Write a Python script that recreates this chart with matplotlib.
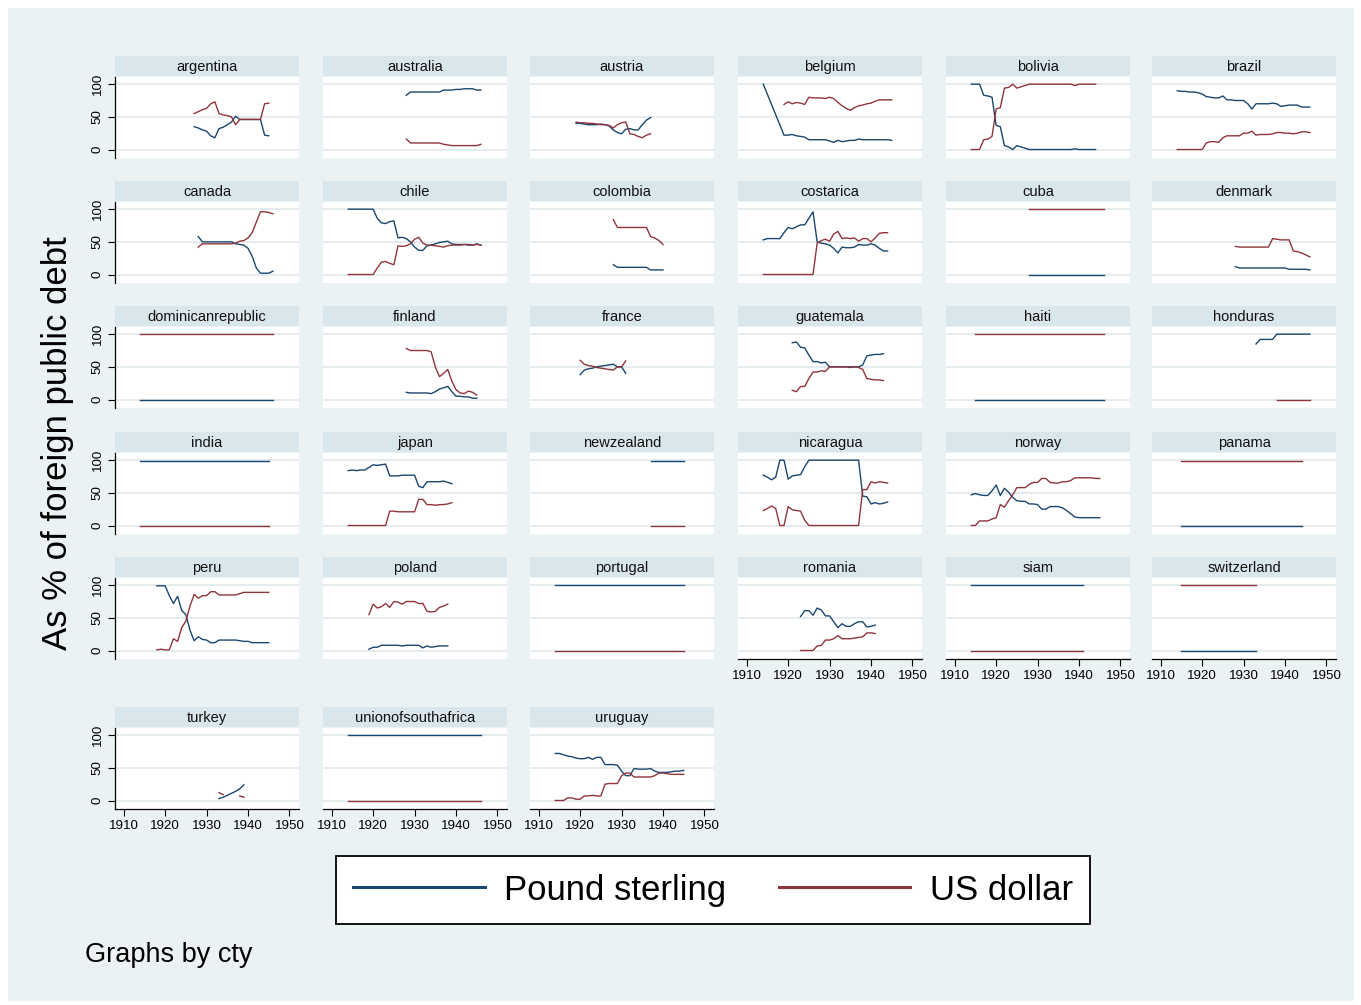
import numpy as np
import matplotlib
matplotlib.use('Agg')
import matplotlib.pyplot as plt
from matplotlib.lines import Line2D
from matplotlib.patches import Rectangle

plt.rcParams['font.family'] = ['Liberation Sans', 'DejaVu Sans']

# panel order, 6 per row
countries = [
    'argentina', 'australia', 'austria', 'belgium', 'bolivia', 'brazil',
    'canada', 'chile', 'colombia', 'costarica', 'cuba', 'denmark',
    'dominicanrepublic', 'finland', 'france', 'guatemala', 'haiti', 'honduras',
    'india', 'japan', 'newzealand', 'nicaragua', 'norway', 'panama',
    'peru', 'poland', 'portugal', 'romania', 'siam', 'switzerland',
    'turkey', 'unionofsouthafrica', 'uruguay',
]

# first year of each series
start_gbp = {
    'argentina': 1927, 'australia': 1928, 'austria': 1919, 'belgium': 1914,
    'bolivia': 1914, 'brazil': 1914, 'canada': 1928, 'chile': 1914,
    'colombia': 1928, 'costarica': 1914, 'cuba': 1928, 'denmark': 1928,
    'dominicanrepublic': 1914, 'finland': 1928, 'france': 1920,
    'guatemala': 1921, 'haiti': 1915, 'honduras': 1933, 'india': 1914,
    'japan': 1914, 'newzealand': 1937, 'nicaragua': 1914, 'norway': 1914,
    'panama': 1915, 'peru': 1918, 'poland': 1919, 'portugal': 1914,
    'romania': 1923, 'siam': 1914, 'switzerland': 1915, 'turkey': 1933,
    'unionofsouthafrica': 1914, 'uruguay': 1914,
}
start_usd = dict(start_gbp, belgium=1919, honduras=1938)

N = None  # year not in the data
# Pound sterling share (%)
gbp = {
    'argentina': [35, 33, 30, 28, 21, 18, 32, 34, 38, 42, 51, 46, 46, 46, 46, 46, 46, 22, 21],
    'australia': [83, 88, 88, 88, 88, 88, 88, 88, 88, 91, 91, 91, 92, 92, 93, 93, 93, 91, 91],
    'austria': [40, 40, 39, 38, 38, 38, 39, 38, 36, 30, 26, 24, 31, 32, 30, 30, 38, 45, 49],
    'belgium': [100, N, N, N, N, 22, 22, 23, 21, 20, 19, 15, 15, 15, 15, 15, 13, 11, 14, 12,
                13, 14, 14, 16, 15, 15, 15, 15, 15, 15, 15, 14],
    'bolivia': [100, 100, 100, 83, 82, 80, 37, 35, 6, 4, 0, 6, 4, 2, 0,
                0, 0, 0, 0, 0, 0, 0, 0, 0, 0, 1, 0, 0, 0, 0, 0],
    'brazil': [90, 89, 89, 88, 88, 87, 85, 81, 80, 79, 79, 82, 76, 76, 75, 75, 75, 70, 62, 70,
               70, 70, 70, 71, 70, 66, 67, 68, 68, 68, 65, 65, 65],
    'canada': [58, 50, 50, 50, 50, 50, 50, 50, 50, 47, 46, 45, 40, 28, 10, 2, 2, 2, 5],
    'chile': [100, 100, 100, 100, 100, 100, 100, 86, 79, 78, 81, 82, 56, 57, 55, 50, 42, 37,
              37, 44, 45, 47, 49, 50, 51, 47, 46, 46, 46, 45, 45, 47, 45],
    'colombia': [15, 11, 11, 11, 11, 11, 11, 11, 11, 7, 7, 7, 7],
    'costarica': [53, 55, 55, 55, 55, 64, 72, 70, 73, 76, 76, 86, 96, 50, 48, 47, 45, 40, 33,
                  42, 41, 41, 42, 46, 45, 45, 47, 45, 40, 36, 36],
    'cuba': [0] * 19,
    'denmark': [12, 10, 10, 10, 10, 10, 10, 10, 10, 10, 10, 10, 10, 8, 8, 8, 8, 8, 7],
    'dominicanrepublic': [0] * 33,
    'finland': [11, 10, 10, 10, 10, 10, 9, 12, 16, 18, 20, 12, 5, 5, 4, 4, 2, 2],
    'france': [38, 45, 47, 48, 50, 51, 52, 53, 54, 50, 50, 40],
    'guatemala': [87, 88, 80, 79, 68, 58, 58, 56, 57, 50, 50, 50, 50, 50, 49, 50, 50, 53, 67,
                  68, 69, 69, 70],
    'haiti': [0] * 32,
    'honduras': [85, 92, 92, 92, 92, 100, 100, 100, 100, 100, 100, 100, 100, 100],
    'india': [99] * 32,
    'japan': [84, 85, 84, 85, 85, 89, 93, 92, 93, 94, 76, 76, 76, 77, 77, 77, 77, 60, 58, 67,
              67, 67, 67, 68, 66, 64],
    'newzealand': [99] * 9,
    'nicaragua': [77, 74, 70, 74, 100, 100, 71, 76, 77, 78, 90, 100, 100, 100, 100, 100, 100,
                  100, 100, 100, 100, 100, 100, 100, 45, 44, 33, 35, 33, 34, 36],
    'norway': [47, 49, 47, 46, 46, 53, 62, 46, 57, 51, 43, 38, 37, 37, 33, 33, 32, 25, 25, 29,
               29, 29, 27, 23, 18, 13, 12, 12, 12, 12, 12, 12],
    'panama': [0] * 30,
    'peru': [99, 99, 99, 84, 72, 83, 61, 55, 31, 15, 21, 17, 16, 12, 12, 16, 16, 16, 16, 16,
             15, 14, 14, 12, 12, 12, 12, 12],
    'poland': [2, 5, 5, 8, 8, 8, 8, 8, 7, 8, 8, 8, 8, 4, 7, 5, 6, 7, 7, 7],
    'portugal': [100] * 32,
    'romania': [52, 61, 61, 54, 65, 62, 53, 53, 44, 35, 41, 37, 37, 41, 44, 44, 36, 37, 39],
    'siam': [100] * 28,
    'switzerland': [0] * 19,
    'turkey': [3, 5, 8, 11, 14, 18, 24],
    'unionofsouthafrica': [100] * 33,
    'uruguay': [72, 72, 70, 68, 67, 65, 64, 64, 66, 63, 66, 66, 55, 55, 55, 54, 45, 38, 38, 49,
                48, 48, 48, 49, 45, 43, 43, 43, 44, 45, 45, 46],
}

# US dollar share (%)
usd = {
    'argentina': [55, 58, 61, 63, 70, 73, 55, 53, 52, 50, 38, 46, 46, 46, 46, 46, 46, 70, 71],
    'australia': [16, 10, 10, 10, 10, 10, 10, 10, 10, 8, 7, 6, 6, 6, 6, 6, 6, 6, 8],
    'austria': [42, 41, 41, 40, 40, 39, 38, 38, 37, 33, 38, 41, 42, 24, 23, 20, 18, 22, 24],
    'belgium': [69, 73, 70, 72, 71, 69, 80, 79, 79, 79, 78, 80, 78, 72, 67, 63, 60, 64, 67,
                68, 70, 71, 74, 76, 76, 76, 76],
    'bolivia': [0, 0, 0, 15, 16, 20, 62, 64, 94, 95, 100, 94, 96, 98, 100,
                100, 100, 100, 100, 100, 100, 100, 100, 100, 100, 98, 100, 100, 100, 100, 100],
    'brazil': [0, 0, 0, 0, 0, 0, 0, 10, 12, 12, 11, 18, 21, 21, 21, 21, 25, 25, 28, 22,
               23, 23, 23, 24, 26, 26, 25, 25, 24, 25, 27, 27, 26],
    'canada': [42, 47, 47, 47, 47, 47, 47, 47, 47, 48, 51, 52, 56, 64, 80, 96, 96, 95, 93],
    'chile': [0, 0, 0, 0, 0, 0, 0, 10, 19, 20, 17, 15, 44, 43, 44, 47, 54, 57, 48, 45,
              45, 44, 43, 42, 44, 45, 45, 45, 46, 46, 45, 46, 45],
    'colombia': [84, 72, 72, 72, 72, 72, 72, 72, 72, 58, 56, 52, 46],
    'costarica': [0, 0, 0, 0, 0, 0, 0, 0, 0, 0, 0, 0, 0, 48, 52, 54, 51, 62, 66, 55,
                  56, 55, 56, 51, 55, 55, 50, 56, 63, 64, 64],
    'cuba': [100] * 19,
    'denmark': [43, 42, 42, 42, 42, 42, 42, 42, 42, 55, 54, 53, 53, 53, 36, 35, 33, 30, 27],
    'dominicanrepublic': [100] * 33,
    'finland': [78, 75, 75, 75, 75, 75, 73, 50, 35, 40, 46, 28, 15, 10, 9, 13, 11, 7],
    'france': [60, 54, 52, 51, 49, 48, 47, 46, 45, 50, 50, 59],
    'guatemala': [14, 12, 20, 20, 32, 42, 42, 44, 43, 50, 50, 50, 50, 50, 50, 50, 49, 46, 32,
                  31, 30, 30, 29],
    'haiti': [100] * 32,
    'honduras': [0] * 9,
    'india': [0] * 32,
    'japan': [0, 0, 0, 0, 0, 0, 0, 0, 0, 0, 22, 22, 21, 21, 21, 21, 21, 40, 40, 32,
              32, 31, 32, 32, 33, 35],
    'newzealand': [0] * 9,
    'nicaragua': [23, 26, 30, 26, 0, 0, 29, 24, 23, 22, 8, 0, 0, 0, 0, 0, 0, 0, 0, 0,
                  0, 0, 0, 0, 55, 55, 67, 65, 67, 66, 65],
    'norway': [0, 0, 7, 7, 7, 10, 12, 32, 28, 38, 47, 58, 58, 58, 63, 66, 66, 72, 72, 66,
               65, 65, 67, 67, 69, 73, 73, 73, 73, 73, 72, 72],
    'panama': [99] * 30,
    'peru': [1, 2, 1, 1, 18, 14, 35, 45, 68, 86, 80, 84, 84, 90, 90, 85, 85, 85, 85, 85,
             87, 89, 89, 89, 89, 89, 89, 89],
    'poland': [55, 71, 65, 67, 72, 66, 75, 74, 71, 75, 75, 75, 72, 72, 60, 59, 60, 66, 68, 71],
    'portugal': [0] * 32,
    'romania': [0, 0, 0, 0, 7, 8, 16, 16, 18, 23, 18, 18, 18, 19, 20, 21, 27, 27, 26],
    'siam': [0] * 28,
    'switzerland': [100] * 19,
    'turkey': [12, 9, np.nan, np.nan, np.nan, 7, 5],
    'unionofsouthafrica': [0] * 33,
    'uruguay': [0, 0, 0, 4, 4, 2, 2, 7, 7, 8, 7, 7, 25, 26, 26, 26, 38, 42, 42, 36,
                36, 36, 36, 36, 38, 42, 42, 41, 40, 40, 40, 40],
}

navy = '#1a476f'
maroon = '#90353b'
bg = '#eaf2f3'
strip = '#d9e6eb'
grid_col = '#e2ebee'

W, H = 1361, 1005
fig = plt.figure(figsize=(W / 100, H / 100), dpi=100, facecolor='white')
fig.add_artist(Rectangle((8 / W, 1 - 1001 / H), 1346 / W, 993 / H,
                         transform=fig.transFigure, facecolor=bg,
                         edgecolor='none', zorder=0))


def px_axes(left, top, width, height):
    return fig.add_axes([left / W, 1 - (top + height) / H, width / W, height / H])


col_left = [115, 323, 530, 738, 946, 1152]
row_top = [56, 181, 306, 432, 557, 707]
pw = 184

# panels that carry the x axis
bottom_panels = {'romania', 'siam', 'switzerland', 'turkey',
                 'unionofsouthafrica', 'uruguay'}


def series(name, data, starts):
    vals = np.array([np.nan if v is None else v for v in data[name]], dtype=float)
    yrs = np.arange(starts[name], starts[name] + len(vals))
    if name == 'belgium':
        keep = ~np.isnan(vals)
        yrs, vals = yrs[keep], vals[keep]
    return yrs, vals


for i, name in enumerate(countries):
    r, c = divmod(i, 6)
    left, top = col_left[c], row_top[r]

    hax = px_axes(left, top, pw, 20)
    hax.set_facecolor(strip)
    hax.set_xticks([])
    hax.set_yticks([])
    for s in hax.spines.values():
        s.set_visible(False)
    hax.text(0.5, 0.45, name, ha='center', va='center', fontsize=10.5,
             color='#111111', transform=hax.transAxes)

    ax = px_axes(left, top + 21, pw, 81)
    ax.set_facecolor('white')
    ax.set_xlim(1907.9, 1952.3)
    ax.set_ylim(-13, 111)
    for yv in [0, 50, 100]:
        ax.axhline(yv, color=grid_col, lw=1.3, zorder=1)

    x1, y1 = series(name, gbp, start_gbp)
    x2, y2 = series(name, usd, start_usd)
    ax.plot(x1, y1, color=navy, lw=1.0, zorder=3)
    ax.plot(x2, y2, color=maroon, lw=1.0, zorder=3)

    for s in ax.spines.values():
        s.set_visible(False)

    if c == 0:
        ax.spines['left'].set_visible(True)
        ax.spines['left'].set_linewidth(0.9)
        ax.set_yticks([0, 50, 100])
        ax.set_yticklabels(['0', '50', '100'], rotation=90, va='center')
        ax.tick_params(axis='y', length=5, width=0.8, labelsize=9.6, pad=3)
    else:
        ax.set_yticks([])

    if name in bottom_panels:
        ax.spines['bottom'].set_visible(True)
        ax.spines['bottom'].set_linewidth(0.9)
        ax.set_xticks([1910, 1920, 1930, 1940, 1950])
        ax.tick_params(axis='x', length=5, width=0.8, labelsize=9.6, pad=3)
    else:
        ax.set_xticks([])

fig.text(58 / W, 1 - 443 / H, 'As % of foreign public debt', rotation=90,
         ha='center', va='center', fontsize=25)
fig.text(85 / W, 1 - 955 / H, 'Graphs by cty', ha='left', va='center',
         fontsize=19.5)

handles = [Line2D([], [], color=navy, lw=2.2), Line2D([], [], color=maroon, lw=2.2)]
leg = fig.legend(handles, ['Pound sterling', 'US dollar'], loc='center',
                 bbox_to_anchor=(713 / W, 1 - 890 / H), ncol=2, fontsize=25,
                 frameon=True, fancybox=False, framealpha=1, edgecolor='black',
                 handlelength=3.8, handletextpad=0.55, columnspacing=1.5,
                 borderpad=0.5)
leg.get_frame().set_linewidth(1.3)

fig.savefig('out.png', dpi=100, facecolor='white')
